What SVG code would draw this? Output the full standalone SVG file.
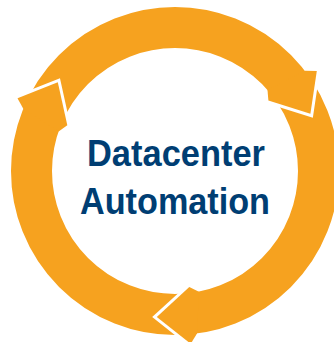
<svg xmlns="http://www.w3.org/2000/svg" width="334" height="342" viewBox="0 0 334 342">
  <style>
    .ring { fill: none; stroke: #F6A21F; stroke-width: 41; }
    .head { fill: #F6A21F; stroke: none; }
    .gap { fill: none; stroke: #FFFFFF; stroke-width: 6; stroke-linejoin: miter; stroke-miterlimit: 10; }
    .label { font-family: "Liberation Sans", Arial, sans-serif; font-weight: bold; font-size: 36px; fill: #003E73; text-anchor: middle; }
  </style>
  <rect x="0" y="0" width="334" height="342" fill="#FFFFFF"/>
  <g id="connectors">
    <circle class="ring" cx="175" cy="171" r="143.5"/>
  </g>
  <g id="arrow-upper-left">
    <polyline class="gap" points="17.5,98.2 57.8,82.3 67.3,125.3"/>
    <polygon class="head" points="23.3,108.8 17.5,98.2 57.8,82.3 67.3,125.3 58.6,131.4"/>
  </g>
  <g id="arrow-right">
    <polyline class="gap" points="316.8,71.0 310.4,113.8 268.4,100.6"/>
    <polygon class="head" points="304.8,70.7 316.8,71.0 310.4,113.8 268.4,100.6 267.5,90.0"/>
  </g>
  <g id="arrow-bottom">
    <polyline class="gap" points="190.7,343.8 156.8,316.9 189.3,287.1"/>
    <polygon class="head" points="197.0,333.5 190.7,343.8 156.8,316.9 189.3,287.1 198.9,291.7"/>
  </g>
  <g id="title">
    <text class="label" x="176" y="166" textLength="178" lengthAdjust="spacingAndGlyphs">Datacenter</text>
    <text class="label" x="175" y="214" textLength="190" lengthAdjust="spacingAndGlyphs">Automation</text>
  </g>
</svg>
